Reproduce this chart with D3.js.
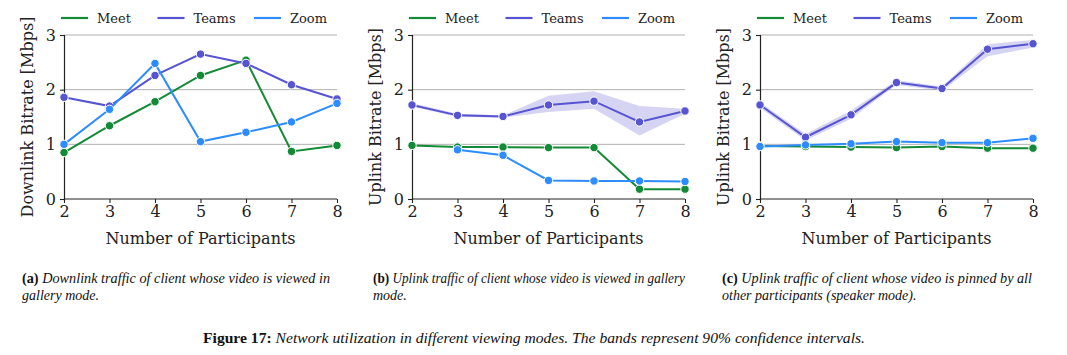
<!DOCTYPE html>
<html><head><meta charset="utf-8">
<script src="https://cdn.jsdelivr.net/npm/d3@7"></script>
<style>
body{margin:0;background:#fff;}
svg{display:block;}
</style></head>
<body><svg id="c" width="1067" height="355"></svg>
<script>
const participants = [2,3,4,5,6,7,8];
const seriesNames = ["Meet","Teams","Zoom"];
const yTicks = [0,1,2,3];

// Panel (a) downlink, gallery
const aMeet  = [0.85,1.34,1.78,2.26,2.54,0.87,0.98];
const aTeams = [1.86,1.70,2.26,2.65,2.48,2.09,1.83];
const aZoom  = [1.00,1.64,2.48,1.05,1.22,1.41,1.75];

// Panel (b) uplink, gallery
const bMeet  = [0.98,0.95,0.95,0.94,0.94,0.18,0.18];
const bTeams = [1.72,1.53,1.51,1.72,1.79,1.41,1.61];
const bTeamsLo = [1.69,1.50,1.49,1.59,1.65,1.16,1.56];
const bTeamsHi = [1.75,1.56,1.53,1.89,1.97,1.70,1.65];
const bZoom  = [null,0.90,0.80,0.34,0.33,0.33,0.32];

// Panel (c) uplink, speaker mode
const cMeet  = [0.97,0.96,0.95,0.94,0.96,0.93,0.93];
const cTeams = [1.72,1.13,1.54,2.13,2.02,2.74,2.84];
const cTeamsLo = [1.67,1.07,1.47,2.09,1.98,2.61,2.77];
const cTeamsHi = [1.77,1.19,1.62,2.17,2.06,2.83,2.91];
const cZoom  = [0.96,0.99,1.01,1.05,1.03,1.03,1.11];

const yLabels = ["Downlink Bitrate [Mbps]","Uplink Bitrate [Mbps]","Uplink Bitrate [Mbps]"];
const xLabel = "Number of Participants";
const subCaptions = [
  ["(a)"," Downlink traffic of client whose video is viewed in","gallery mode."],
  ["(b)"," Uplink traffic of client whose video is viewed in gallery","mode."],
  ["(c)"," Uplink traffic of client whose video is pinned by all","other participants (speaker mode)."]
];
const figCaptionBold = "Figure 17:";
const figCaptionText = " Network utilization in different viewing modes. The bands represent 90% confidence intervals.";

const colors = {Meet:"#138a36", Teams:"#5754d1", Zoom:"#2d8cff"};

const panels = [
  {x0:64, x1:337, series:{Meet:aMeet,Teams:aTeams,Zoom:aZoom}, band:null},
  {x0:412, x1:685, series:{Meet:bMeet,Teams:bTeams,Zoom:bZoom}, band:{lo:bTeamsLo,hi:bTeamsHi}},
  {x0:760, x1:1033, series:{Meet:cMeet,Teams:cTeams,Zoom:cZoom}, band:{lo:cTeamsLo,hi:cTeamsHi}}
];
const capX = [22, 373, 722];
const capW = [308, 312, 310];

const svg = d3.select("#c");
const yTop = 35, yBot = 199;
const serif = "DejaVu Serif";

panels.forEach((p,pi)=>{
  const x = d3.scaleLinear().domain([2,8]).range([p.x0,p.x1]);
  const y = d3.scaleLinear().domain([0,3]).range([yBot,yTop]);
  const g = svg.append("g");

  g.selectAll("line.grid").data(yTicks.filter(t=>t>0)).enter().append("line")
    .attr("x1",p.x0).attr("x2",p.x1).attr("y1",d=>y(d)).attr("y2",d=>y(d))
    .attr("stroke","#b0b0b0").attr("stroke-width",1);

  if(p.band){
    const area = d3.area().x((d,i)=>x(participants[i])).y0((d,i)=>y(p.band.lo[i])).y1((d,i)=>y(p.band.hi[i]));
    g.append("path").datum(p.band.lo).attr("d",area).attr("fill",colors.Teams).attr("fill-opacity",0.25);
  }

  const xa = g.append("g").attr("transform",`translate(0,${yBot})`)
    .call(d3.axisBottom(x).tickValues(participants).tickFormat(d3.format("d")).tickSize(4).tickPadding(3));
  const ya = g.append("g").attr("transform",`translate(${p.x0},0)`)
    .call(d3.axisLeft(y).tickValues(yTicks).tickFormat(d3.format("d")).tickSize(4).tickPadding(4));
  [xa,ya].forEach(a=>{
    a.select(".domain").attr("stroke","#222").attr("stroke-width",1.2);
    a.selectAll(".tick line").attr("stroke","#222").attr("stroke-width",1.1);
    a.selectAll("text").attr("font-family",serif).attr("font-size",16).attr("fill","#222");
  });
  xa.select(".domain").attr("d",`M${p.x0},0H${p.x1}`);

  seriesNames.forEach(name=>{
    const vals = p.series[name];
    const pts = participants.map((v,i)=>({x:v,y:vals[i]})).filter(d=>d.y!==null);
    const line = d3.line().x(d=>x(d.x)).y(d=>y(d.y));
    g.append("path").datum(pts).attr("d",line).attr("fill","none")
      .attr("stroke",colors[name]).attr("stroke-width",2);
    g.selectAll(null).data(pts).enter().append("circle")
      .attr("cx",d=>x(d.x)).attr("cy",d=>y(d.y)).attr("r",4.2)
      .attr("fill",colors[name]).attr("stroke","#fff").attr("stroke-width",1);
  });

  g.append("text").attr("x",(p.x0+p.x1)/2).attr("y",244).attr("text-anchor","middle")
    .attr("font-family",serif).attr("font-size",16).attr("fill","#222").text(xLabel);
  g.append("text").attr("transform",`translate(${p.x0-31},${(yTop+yBot)/2}) rotate(-90)`)
    .attr("text-anchor","middle").attr("font-family",serif).attr("font-size",16).attr("fill","#222").text(yLabels[pi]);

  seriesNames.forEach((name,i)=>{
    const lx = p.x0 - 3 + i*96.5;
    g.append("line").attr("x1",lx).attr("x2",lx+27).attr("y1",18).attr("y2",18)
      .attr("stroke",colors[name]).attr("stroke-width",2.2);
    g.append("text").attr("x",lx+36).attr("y",22.5).attr("font-family",serif).attr("font-size",13)
      .attr("fill","#222").text(name);
  });

  const cap = subCaptions[pi];
  const t1 = svg.append("text").attr("x",capX[pi]).attr("y",283)
    .attr("font-family","Liberation Serif").attr("font-size",14.5).attr("fill","#111")
    .attr("textLength",capW[pi]).attr("lengthAdjust","spacingAndGlyphs");
  t1.append("tspan").attr("font-weight","bold").attr("font-style","normal").text(cap[0]);
  t1.append("tspan").attr("font-style","italic").text(cap[1]);
  svg.append("text").attr("x",capX[pi]).attr("y",300)
    .attr("font-family","Liberation Serif").attr("font-size",14).attr("font-style","italic").attr("fill","#111")
    .text(cap[2]);
});

const fc = svg.append("text").attr("x",203).attr("y",343)
  .attr("font-family","Liberation Serif").attr("font-size",15.5).attr("fill","#111")
  .attr("textLength",662).attr("lengthAdjust","spacingAndGlyphs");
fc.append("tspan").attr("font-weight","bold").text(figCaptionBold);
fc.append("tspan").attr("font-style","italic").text(figCaptionText);
</script></body></html>
